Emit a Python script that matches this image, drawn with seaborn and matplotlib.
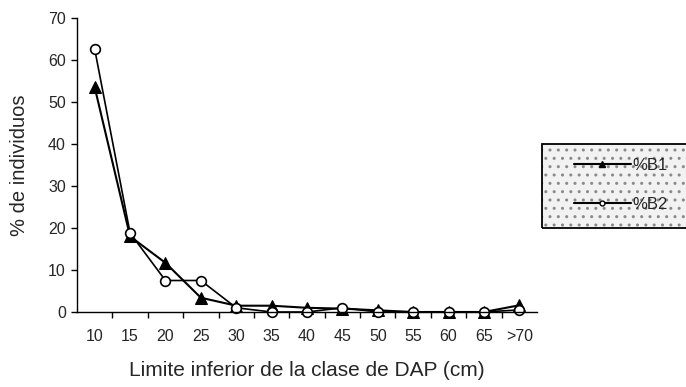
import matplotlib
matplotlib.use("Agg")
import matplotlib.pyplot as plt
from matplotlib.patches import Rectangle
from matplotlib.lines import Line2D
import seaborn as sns
import pandas as pd

clases = ["10", "15", "20", "25", "30", "35", "40", "45", "50", "55", "60", "65", ">70"]
pct_b1 = [53.5, 18, 11.7, 3.4, 1.5, 1.5, 1.0, 0.8, 0.4, 0.0, 0.0, 0.0, 1.6]
pct_b2 = [62.6, 18.8, 7.5, 7.5, 1.0, 0.0, 0.0, 1.0, 0.0, 0.0, 0.0, 0.0, 0.5]
etiquetas = ["%B1", "%B2"]

sns.set_theme(style="white")
plt.rcParams["font.family"] = ["Liberation Sans", "DejaVu Sans"]

df = pd.DataFrame({"clase": clases, "b1": pct_b1, "b2": pct_b2})

fig = plt.figure(figsize=(6.86, 3.87), dpi=100)
ax = fig.add_axes([77 / 686, 1 - 312 / 387, (537 - 77) / 686, (312 - 18) / 387])

sns.lineplot(data=df, x="clase", y="b1", ax=ax, color="black", lw=1.5,
             marker="^", markersize=8, markerfacecolor="black",
             markeredgecolor="black", sort=False, legend=False)
sns.lineplot(data=df, x="clase", y="b2", ax=ax, color="black", lw=1.2,
             marker="o", markersize=7, markerfacecolor="white",
             markeredgecolor="black", markeredgewidth=1.2, sort=False,
             legend=False)
for ln in ax.lines:
    ln.set_clip_on(False)

ax.set_xlim(-0.5, len(clases) - 0.5)
ax.set_ylim(0, 70)
ax.set_yticks(range(0, 71, 10))
ax.set_xticks(range(len(clases)))
ax.set_xticklabels(clases)
ax.set_xticks([i + 0.5 for i in range(len(clases) - 1)], minor=True)

for side in ("top", "right"):
    ax.spines[side].set_visible(False)
for side in ("left", "bottom"):
    ax.spines[side].set_color("black")
    ax.spines[side].set_linewidth(1.0)

ax.tick_params(axis="y", which="major", left=True, length=4, width=1,
               color="black", labelsize=11.5, pad=4)
ax.tick_params(axis="x", which="major", bottom=False, labelsize=11.5, pad=6)
ax.tick_params(axis="x", which="minor", bottom=True, length=4, width=1,
               color="black")

ax.set_xlabel("Limite inferior de la clase de DAP (cm)", fontsize=15)
ax.xaxis.set_label_coords(0.5, -(370 - 312) / (312 - 18), transform=ax.transAxes)
ax.xaxis.label.set_va("center")
ax.set_ylabel("% de individuos", fontsize=14.5)
ax.yaxis.set_label_coords(-(77 - 20) / (537 - 77), 0.5, transform=ax.transAxes)
ax.yaxis.label.set_va("center")

# stippled legend box running off the right edge
x0, y0, w, h = 542 / 686, 1 - 228 / 387, 160 / 686, 84 / 387
fondo = Rectangle((x0, y0), w, h, transform=fig.transFigure,
                  facecolor="#f2f2f2", edgecolor="#8a8a8a", linewidth=0,
                  hatch="..", zorder=0)
marco = Rectangle((x0, y0), w, h, transform=fig.transFigure,
                  facecolor="none", edgecolor="black", linewidth=1.3, zorder=1)
fig.patches.extend([fondo, marco])

handles = [
    Line2D([], [], color="black", lw=1.5, marker="^", markersize=5,
           markerfacecolor="black", markeredgecolor="black"),
    Line2D([], [], color="black", lw=1.5, marker="o", markersize=3.5,
           markerfacecolor="white", markeredgecolor="black"),
]
leg = fig.legend(handles, etiquetas, loc="upper left",
                 bbox_to_anchor=(559 / 686, 1 - 143 / 387),
                 frameon=False, fontsize=12, handlelength=3.4,
                 labelspacing=1.45, handletextpad=0.1)
leg.set_zorder(5)

fig.savefig("out.png", dpi=100)
